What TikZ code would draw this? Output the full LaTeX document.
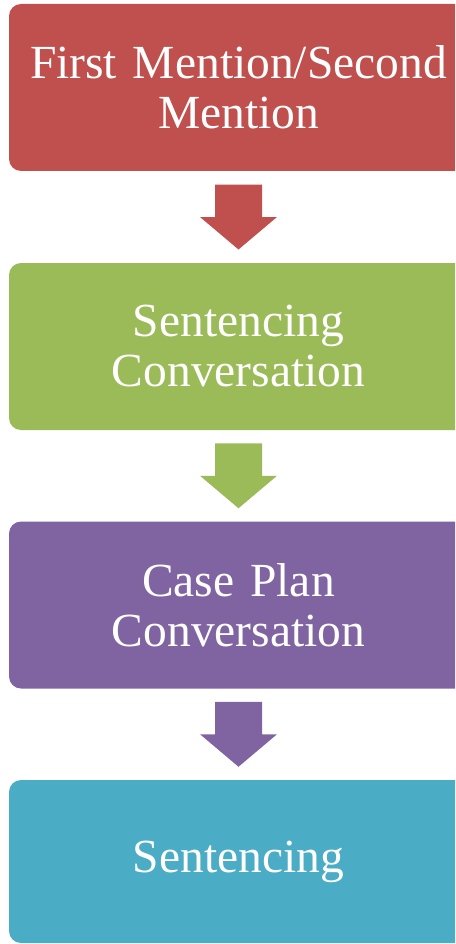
\documentclass[tikz,border=0pt]{standalone}
\usepackage{fontspec}
\setmainfont{Liberation Serif}
\usepackage{xcolor}
\usetikzlibrary{positioning,calc}
\definecolor{stagered}{HTML}{C0504D}
\definecolor{stagegreen}{HTML}{9BBB59}
\definecolor{stagepurple}{HTML}{8064A2}
\definecolor{stageblue}{HTML}{4BACC6}
\tikzset{
stage/.style={rectangle, rounded corners=12pt, minimum width=459pt, minimum height=167pt,
  text width=450pt, align=center, text=white, font=\fontsize{47.5}{50}\selectfont, inner sep=0pt}
}
% block arrow from box #1 to box #2 in colour #3
\newcommand{\blockarrow}[3]{
  \path (#1.south) -- (#2.north) coordinate[pos=.5] (#1-#2);
  \fill[#3] ($(#1-#2)+(-23.5,-32.5)$) -- ($(#1-#2)+(23.5,-32.5)$) -- ($(#1-#2)+(23.5,0)$)
    -- ($(#1-#2)+(38.5,0)$) -- ($(#1-#2)+(0,32.5)$) -- ($(#1-#2)+(-38.5,0)$)
    -- ($(#1-#2)+(-23.5,0)$) -- cycle;
}

\begin{document}
\begin{tikzpicture}[x=1pt,y=-1pt]
\useasboundingbox (0,0) rectangle (455,944);
\clip (0,0) rectangle (455,944);
\node[stage, fill=stagered] (mention) at (238.5,87.5) {First Mention/Second\\Mention};
\node[stage, fill=stagegreen] (conv) at (238.5,346.5) {Sentencing\\Conversation};
\node[stage, fill=stagepurple] (plan) at (238.5,605) {Case Plan\\Conversation};
\node[stage, fill=stageblue, minimum height=163pt] (sent) at (238.5,861.5) {Sentencing};
%arrows between the stages
\foreach \a/\b/\c in {mention/conv/stagered, conv/plan/stagegreen, plan/sent/stagepurple} {
  \blockarrow{\a}{\b}{\c}
}
\end{tikzpicture}
\end{document}
